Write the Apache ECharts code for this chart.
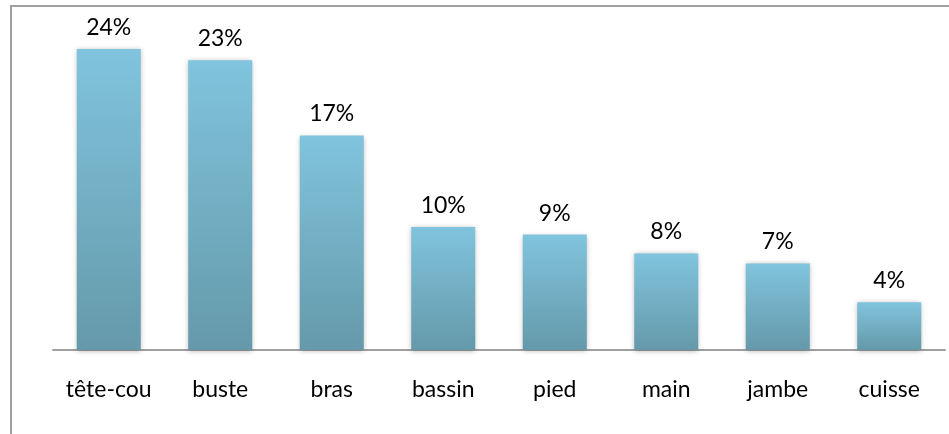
<!DOCTYPE html>
<html><head><meta charset="utf-8">
<script src="https://cdn.jsdelivr.net/npm/echarts@6/dist/echarts.min.js"></script>
<style>html,body{margin:0;padding:0;background:#fff;}#frame{position:absolute;left:10px;top:5px;width:950px;height:440px;border:2px solid #a0a0a0;box-sizing:border-box;}#c{position:absolute;left:0;top:0;width:949px;height:434px;}</style>
</head><body>
<div id="frame"></div>
<div id="c"></div>
<script>
const categories = ['tête-cou','buste','bras','bassin','pied','main','jambe','cuisse'];
const values = [24, 23.1, 17.1, 9.8, 9.2, 7.7, 6.9, 3.8];
const chart = echarts.init(document.getElementById('c'));
chart.setOption({
  animation: false,
  grid: {left: 53, right: 4, top: 49, bottom: 84, containLabel: false},
  xAxis: {
    type: 'category', data: categories,
    axisLine: {lineStyle: {color: '#a0a0a0', width: 2}},
    axisTick: {show: false},
    axisLabel: {color: '#000', fontFamily: 'Lato', fontSize: 23, margin: 28}
  },
  yAxis: {type: 'value', min: 0, max: 24, show: false, splitLine: {show: false}},
  series: [{
    type: 'bar', data: values, barWidth: 64,
    itemStyle: {
      color: new echarts.graphic.LinearGradient(0,0,0,1,[{offset:0,color:'#80c4dd'},{offset:1,color:'#6599aa'}]),
      shadowBlur: 5, shadowColor: 'rgba(0,0,0,0.3)', shadowOffsetY: 1
    },
    label: {show: true, position: 'top', distance: 10, color: '#000', fontFamily: 'Lato', fontSize: 23,
      formatter: p => Math.round(p.value) + '%'}
  }]
});
</script>
</body></html>
